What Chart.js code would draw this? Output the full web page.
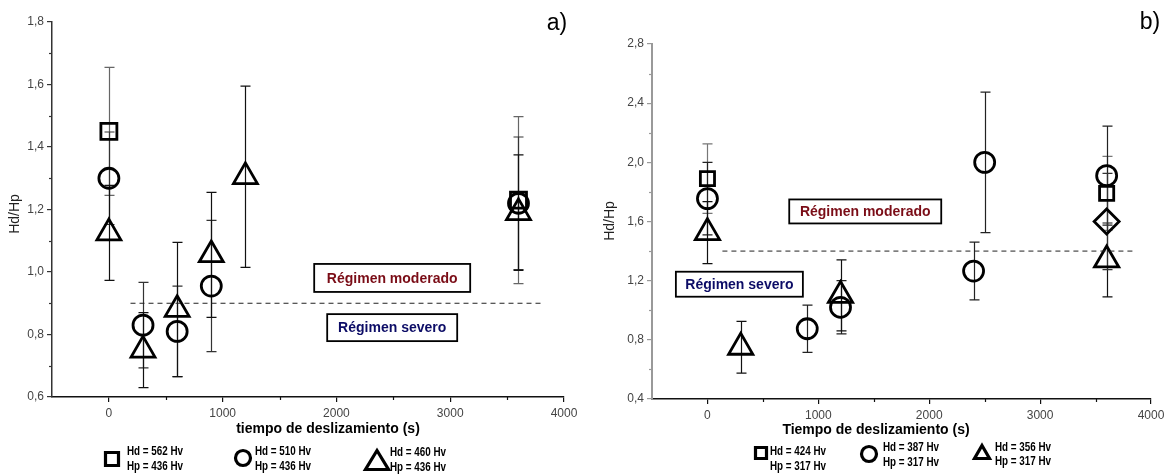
<!DOCTYPE html>
<html>
<head>
<meta charset="utf-8">
<script src="https://cdn.jsdelivr.net/npm/chart.js@4.4.0/dist/chart.umd.min.js"></script>
<style>
    html, body { margin: 0; padding: 0; background: #fff; }
    #wrap { position: relative; width: 1176px; height: 474px; }
    .panel { position: absolute; top: 0; height: 474px; }
    #pa { left: 0; width: 590px; }
    #pb { left: 590px; width: 586px; }
</style>
</head>
<body>
<div id="wrap">
    <div class="panel" id="pa"><canvas id="chart-a"></canvas></div>
    <div class="panel" id="pb"><canvas id="chart-b"></canvas></div>
</div>
<script>
// ---- panel a) data ----
const aXTicks = [0, 1000, 2000, 3000, 4000];
const aYTicks = [0.6, 0.8, 1.0, 1.2, 1.4, 1.6, 1.8];

const aSquareX = [0, 3600];
const aSquareY = [1.45, 1.23];
const aSquareErr = [0.205, 0.267];

const aCircleX = [0, 300, 600, 900, 3600];
const aCircleY = [1.30, 0.83, 0.81, 0.955, 1.22];
const aCircleErr = [0.148, 0.137, 0.145, 0.21, 0.212];

const aTriangleX = [0, 300, 600, 900, 1200, 3600];
const aTriangleY = [1.125, 0.75, 0.88, 1.055, 1.305, 1.19];
const aTriangleErr = [0.152, 0.12, 0.215, 0.2, 0.29, 0.185];

const aThresholdX = [190, 3820];
const aThresholdY = [0.9, 0.9];

const aLegend = [['Hd = 562 Hv', 'Hp = 436 Hv'], ['Hd = 510 Hv', 'Hp = 436 Hv'], ['Hd = 460 Hv', 'Hp = 436 Hv']];

// ---- panel b) data ----
const bXTicks = [0, 1000, 2000, 3000, 4000];
const bYTicks = [0.4, 0.8, 1.2, 1.6, 2.0, 2.4, 2.8];

const bSquareX = [0, 3600];
const bSquareY = [1.89, 1.79];
const bSquareErr = [0.235, 0.25];

const bCircleX = [0, 900, 1200, 2400, 2500, 3600];
const bCircleY = [1.755, 0.875, 1.02, 1.265, 2.0, 1.91];
const bCircleErr = [0.245, 0.16, 0.18, 0.195, 0.475, 0.335];

const bTriangleX = [0, 300, 1200, 3600];
const bTriangleY = [1.525, 0.75, 1.1, 1.34];
const bTriangleErr = [0.21, 0.175, 0.24, 0.25];

const bDiamondX = [3600];
const bDiamondY = [1.6];
const bDiamondErr = [0.325];

const bThresholdX = [135, 3850];
const bThresholdY = [1.4, 1.4];

const bLegend = [['Hd = 424 Hv', 'Hp = 317 Hv'], ['Hd = 387 Hv', 'Hp = 317 Hv'], ['Hd = 356 Hv', 'Hp = 317 Hv']];

const SANS = "'Liberation Sans', Arial, sans-serif";

function pts(xs, ys) {
    return xs.map((x, i) => ({x, y: ys[i]}));
}

function marker(label, xs, ys, errs, style, radius, errColor) {
    return {
        label,
        data: pts(xs, ys),
        errors: errs,
        errorColor: errColor,
        pointStyle: style,
        pointRadius: radius,
        pointHoverRadius: radius,
        pointBorderWidth: 2.8,
        pointHoverBorderWidth: 2.8,
        pointBorderColor: '#000',
        pointBackgroundColor: 'rgba(0,0,0,0)',
        showLine: false,
    };
}

function threshold(xs, ys) {
    return {
        label: 'threshold',
        data: pts(xs, ys),
        showLine: true,
        borderColor: '#222',
        borderWidth: 1,
        borderDash: [5, 4],
        pointRadius: 0,
        pointHoverRadius: 0,
        fill: false,
    };
}

// vertical error bars with caps
const errorBars = {
    id: 'errorBars',
    beforeDatasetsDraw(chart) {
        const {ctx, scales: {x, y}} = chart;
        chart.data.datasets.forEach(ds => {
            if (!ds.errors) return;
            ctx.save();
            ctx.strokeStyle = ds.errorColor;
            ctx.lineWidth = 1.2;
            ds.data.forEach((p, i) => {
                const px = Math.round(x.getPixelForValue(p.x)) + 0.5;
                const top = y.getPixelForValue(p.y + ds.errors[i]);
                const bot = y.getPixelForValue(p.y - ds.errors[i]);
                ctx.beginPath();
                ctx.moveTo(px, top);
                ctx.lineTo(px, bot);
                ctx.moveTo(px - 5, top);
                ctx.lineTo(px + 5, top);
                ctx.moveTo(px - 5, bot);
                ctx.lineTo(px + 5, bot);
                ctx.stroke();
            });
            ctx.restore();
        });
    }
};

// minor ticks, titles, regime boxes, legend
const decorations = {
    id: 'decorations',
    afterDraw(chart) {
        const {ctx, chartArea, scales: {x, y}} = chart;
        const d = chart.options.plugins.decorations;

        // minor ticks
        ctx.save();
        ctx.strokeStyle = d.yAxisColor;
        ctx.lineWidth = 1.2;
        for (let i = 0; i < d.yTicks.length - 1; i++) {
            const py = Math.round(y.getPixelForValue((d.yTicks[i] + d.yTicks[i + 1]) / 2)) + 0.5;
            ctx.beginPath();
            ctx.moveTo(chartArea.left, py);
            ctx.lineTo(chartArea.left - 3, py);
            ctx.stroke();
        }
        ctx.strokeStyle = d.xAxisColor;
        for (let i = 0; i < d.xTicks.length - 1; i++) {
            const px = Math.round(x.getPixelForValue((d.xTicks[i] + d.xTicks[i + 1]) / 2)) + 0.5;
            ctx.beginPath();
            ctx.moveTo(px, chartArea.bottom);
            ctx.lineTo(px, chartArea.bottom + 3);
            ctx.stroke();
        }
        ctx.restore();

        // panel letter
        ctx.save();
        ctx.fillStyle = '#000';
        ctx.font = '23px ' + SANS;
        ctx.textAlign = 'center';
        ctx.textBaseline = 'middle';
        ctx.fillText(d.letter, d.letterPos[0], d.letterPos[1]);

        // axis titles
        ctx.font = 'bold 14px ' + SANS;
        ctx.fillText(d.xTitle, d.xTitlePos[0], d.xTitlePos[1]);
        ctx.translate(d.yTitlePos[0], d.yTitlePos[1]);
        ctx.rotate(-Math.PI / 2);
        ctx.fillStyle = '#222';
        ctx.font = '14px ' + SANS;
        ctx.fillText('Hd/Hp', 0, 0);
        ctx.restore();

        // regime boxes
        d.boxes.forEach(b => {
            const cx = x.getPixelForValue(b.x);
            const cy = y.getPixelForValue(b.y);
            ctx.save();
            ctx.fillStyle = '#fff';
            ctx.fillRect(cx - b.w / 2, cy - b.h / 2, b.w, b.h);
            ctx.strokeStyle = '#000';
            ctx.lineWidth = 1.8;
            ctx.strokeRect(cx - b.w / 2, cy - b.h / 2, b.w, b.h);
            ctx.fillStyle = b.color;
            ctx.font = 'bold 14px ' + SANS;
            ctx.textAlign = 'center';
            ctx.textBaseline = 'middle';
            ctx.fillText(b.text, cx, cy + 1);
            ctx.restore();
        });

        // legend below the axis
        d.legend.forEach(item => {
            ctx.save();
            ctx.strokeStyle = '#000';
            ctx.lineWidth = 3.2;
            const [ix, iy] = item.icon;
            ctx.beginPath();
            if (item.shape === 'rect') {
                ctx.rect(ix - item.size / 2, iy - item.size / 2, item.size, item.size);
            } else if (item.shape === 'circle') {
                ctx.arc(ix, iy, item.size / 2, 0, Math.PI * 2);
            } else {
                ctx.moveTo(ix, iy - item.h / 2);
                ctx.lineTo(ix + item.size / 2, iy + item.h / 2);
                ctx.lineTo(ix - item.size / 2, iy + item.h / 2);
                ctx.closePath();
            }
            ctx.stroke();
            ctx.fillStyle = '#000';
            ctx.font = 'bold 12px ' + SANS;
            ctx.textBaseline = 'middle';
            item.lines.forEach((t, k) => {
                ctx.save();
                ctx.translate(item.text[0], item.text[1] + k * item.gap);
                ctx.scale(0.82, 1.05);
                ctx.fillText(t, 0, 0);
                ctx.restore();
            });
            ctx.restore();
        });
    }
};

function makePanel(canvasId, p) {
    const tickFont = {family: SANS, size: 12};
    return new Chart(document.getElementById(canvasId), {
        type: 'scatter',
        data: {datasets: p.datasets},
        options: {
            responsive: true,
            maintainAspectRatio: false,
            animation: false,
            events: [],
            layout: {padding: {left: 0, top: p.padTop, right: p.padRight, bottom: 0}},
            plugins: {
                legend: {display: false},
                tooltip: {enabled: false},
                decorations: p.deco,
            },
            scales: {
                x: {
                    type: 'linear',
                    min: -500,
                    max: 4000,
                    afterBuildTicks: s => { s.ticks = p.xTicks.map(v => ({value: v})); },
                    afterFit: s => { s.height = p.xAxisH; },
                    ticks: {callback: v => String(v), autoSkip: false, maxRotation: 0, padding: 4, font: tickFont, color: '#444'},
                    grid: {drawOnChartArea: false, drawTicks: true, tickLength: 5, color: p.deco.xAxisColor, lineWidth: 1.2},
                    border: {display: true, color: p.deco.xAxisColor, width: 1.5},
                },
                y: {
                    type: 'linear',
                    min: p.yTicks[0],
                    max: p.yTicks[p.yTicks.length - 1],
                    afterBuildTicks: s => { s.ticks = p.yTicks.map(v => ({value: v})); },
                    afterFit: s => { s.width = p.yAxisW; },
                    ticks: {callback: v => v.toFixed(1).replace('.', ','), autoSkip: false, padding: 3, font: tickFont, color: '#444'},
                    grid: {drawOnChartArea: false, drawTicks: true, tickLength: 5, color: p.deco.yAxisColor, lineWidth: 1.2},
                    border: {display: true, color: p.deco.yAxisColor, width: p.deco.yAxisWidth},
                },
            },
        },
        plugins: [errorBars, decorations],
    });
}

makePanel('chart-a', {
    padTop: 22, padRight: 26, yAxisW: 52, xAxisH: 77,
    xTicks: aXTicks, yTicks: aYTicks,
    datasets: [
        threshold(aThresholdX, aThresholdY),
        marker('square', aSquareX, aSquareY, aSquareErr, 'rect', 11.3, '#666'),
        marker('circle', aCircleX, aCircleY, aCircleErr, 'circle', 10, '#333'),
        marker('triangle', aTriangleX, aTriangleY, aTriangleErr, 'triangle', 13.8, '#111'),
    ],
    deco: {
        xTicks: aXTicks, yTicks: aYTicks,
        xAxisColor: '#111', yAxisColor: '#333', yAxisWidth: 1.5,
        letter: 'a)', letterPos: [557, 24],
        xTitle: 'tiempo de deslizamiento (s)', xTitlePos: [328, 429],
        yTitlePos: [15, 214],
        boxes: [
            {text: 'Régimen moderado', x: 2490, y: 0.981, w: 156, h: 28, color: '#7a0c16'},
            {text: 'Régimen severo', x: 2490, y: 0.822, w: 130, h: 27, color: '#0c0c66'},
        ],
        legend: [
            {shape: 'rect', icon: [112, 459], size: 13, lines: aLegend[0], text: [127, 452], gap: 15},
            {shape: 'circle', icon: [243, 458], size: 15, lines: aLegend[1], text: [255, 452], gap: 15},
            {shape: 'triangle', icon: [377, 460], size: 23, h: 19, lines: aLegend[2], text: [390, 453], gap: 15},
        ],
    },
});

makePanel('chart-b', {
    padTop: 44, padRight: 25, yAxisW: 62, xAxisH: 75,
    xTicks: bXTicks, yTicks: bYTicks,
    datasets: [
        threshold(bThresholdX, bThresholdY),
        marker('square', bSquareX, bSquareY, bSquareErr, 'rect', 10, '#777'),
        marker('circle', bCircleX, bCircleY, bCircleErr, 'circle', 10, '#222'),
        marker('triangle', bTriangleX, bTriangleY, bTriangleErr, 'triangle', 14, '#111'),
        marker('diamond', bDiamondX, bDiamondY, bDiamondErr, 'rectRot', 12.5, '#333'),
    ],
    deco: {
        xTicks: bXTicks, yTicks: bYTicks,
        xAxisColor: '#111', yAxisColor: '#999', yAxisWidth: 2,
        letter: 'b)', letterPos: [560, 23],
        xTitle: 'Tiempo de deslizamiento (s)', xTitlePos: [286, 430],
        yTitlePos: [20, 221],
        boxes: [
            {text: 'Régimen moderado', x: 1423, y: 1.668, w: 152, h: 24, color: '#7a0c16'},
            {text: 'Régimen severo', x: 288, y: 1.176, w: 127, h: 25, color: '#0c0c66'},
        ],
        legend: [
            {shape: 'rect', icon: [171, 453], size: 11, lines: bLegend[0], text: [180, 452], gap: 15},
            {shape: 'circle', icon: [279, 454], size: 15, lines: bLegend[1], text: [293, 448], gap: 15},
            {shape: 'triangle', icon: [392, 452], size: 15, h: 13, lines: bLegend[2], text: [405, 448], gap: 14},
        ],
    },
});
</script>
</body>
</html>
